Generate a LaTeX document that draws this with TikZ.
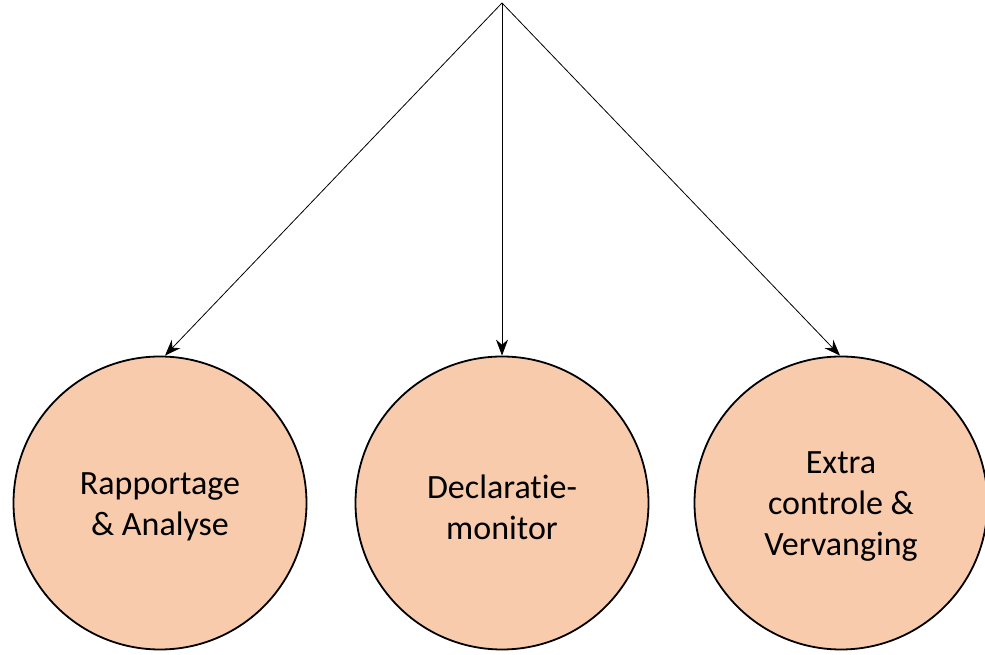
\documentclass[tikz,border=0pt]{standalone}
\usepackage{fontspec}
\setmainfont[Ligatures={NoCommon}]{Carlito}
\usetikzlibrary{arrows.meta}
\definecolor{peach}{HTML}{F8CBAD}
\begin{document}
\begin{tikzpicture}[x=1pt,y=1pt,
    task/.style={circle, draw=black, line width=1.8pt, fill=peach, minimum size=293pt, inner sep=0pt, align=center, font=\fontsize{34}{41}\selectfont},
    link/.style={line width=0.8pt, -{Stealth[length=16pt,width=12pt]}}]
    \useasboundingbox (0,0) rectangle (985,655);

    % Top point
    \coordinate (top) at (502,652);

    % Circles
    \node[task] (rap) at (160,152) {};
    \node[task] (dec) at (502,152) {};
    \node[task] (ext) at (841,152) {};

    % Labels
    \node[align=center, font=\fontsize{34}{41}\selectfont] (raptxt) at ([yshift=-4pt]rap.center) {Rapportage\\\& Analyse};
    \node[align=center, font=\fontsize{34}{41}\selectfont] (dectxt) at ([yshift=-4pt]dec.center) {Declaratie-\\monitor};
    \node[align=center, font=\fontsize{34}{41}\selectfont] (exttxt) at ([yshift=-4pt]ext.center) {Extra\\controle \&\\Vervanging};

    % Arrows
    \draw[link] (top) -- ([xshift=5pt]rap.north);
    \draw[link] (top) -- (dec.north);
    \draw[link] (top) -- ([xshift=-1pt]ext.north);
\end{tikzpicture}
\end{document}
